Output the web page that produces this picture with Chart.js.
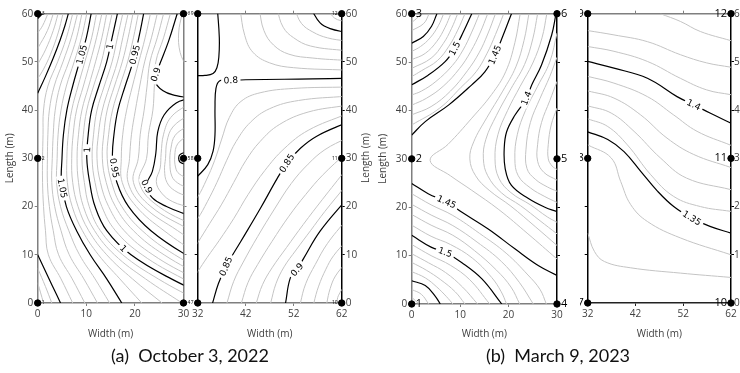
<!DOCTYPE html>
<html>
<head>
<meta charset="utf-8">
<title>Contour maps</title>
<script src="https://cdn.jsdelivr.net/npm/chart.js@4.4.1/dist/chart.umd.min.js"></script>
<style>
  html, body { margin: 0; padding: 0; background: #fff; }
  #wrap { position: relative; width: 740px; height: 373px; overflow: hidden; }
  #wrap canvas { position: absolute; top: 0; }
  .cap { position: absolute; top: 345px; width: 380px; text-align: center; font: 18px Lato, sans-serif; color: #111; white-space: pre; line-height: 20px; }
  .ytitle { position: absolute; width: 80px; height: 14px; line-height: 14px; text-align: center; font: 10px "Open Sans", sans-serif; color: #404040; transform: rotate(-90deg); white-space: nowrap; }
</style>
</head>
<body>
<div id="wrap">
  <canvas id="a1" width="200" height="345" style="left:0px"></canvas>
  <canvas id="a2" width="185" height="345" style="left:190px"></canvas>
  <canvas id="b1" width="195" height="345" style="left:375px"></canvas>
  <canvas id="b2" width="160" height="345" style="left:580px"></canvas>
  <div class="ytitle" style="left:325px;top:151px">Length (m)</div>
  <div class="cap" style="left:0px">(a)  October 3, 2022</div>
  <div class="cap" style="left:368px">(b)  March 9, 2023</div>
</div>
<script>
// ---- ticks ----
const X_TICKS_L = [0, 10, 20, 30];
const X_TICKS_R = [32, 42, 52, 62];
const Y_TICKS = [0, 10, 20, 30, 40, 50, 60];

// ---- sensor positions ----
const SENS_L_X = [0, 0, 0, 30, 30, 30];
const SENS_L_Y = [0, 30, 60, 0, 30, 60];
const SENS_R_X = [32, 32, 32, 62, 62, 62];
const SENS_R_Y = [0, 30, 60, 0, 30, 60];
const IDS_L = ['1', '2', '3', '4', '5', '6'];
const IDS_R = ['7', '8', '9', '10', '11', '12'];

// ---- (a) left panel: near-vertical contours given as X at fixed Y rows ----
const A1_Y_ROWS = [60, 55, 50, 45, 40, 35, 30, 25, 20, 15, 10, 5, 0];
const A1_ROW_LEVELS = [1.09, 1.08, 1.07, 1.06, 1.05, 1.04, 1.03, 1.02, 1.01, 1,
                       0.99, 0.98, 0.97, 0.96, 0.95, 0.94, 0.93, 0.92, 0.91];
const A1_ROW_X = [
  [7.2, 5.9, 4.1, 2.1, 1.2, 1.1, 1.0, 1.0, 1.2, 1.6, 2.2, 4.8, 7.2],
  [8.2, 6.9, 5.2, 3.4, 2.4, 2.1, 2.0, 2.0, 2.4, 3.2, 4.3, 7.1, 9.7],
  [9.1, 8.0, 6.4, 4.6, 3.6, 3.2, 3.0, 2.9, 3.5, 4.8, 6.5, 9.5, 12.3],
  [10.1, 9.0, 7.5, 5.9, 4.8, 4.2, 4.0, 3.9, 4.7, 6.4, 8.6, 11.8, 14.8],
  [11, 10, 8.6, 7.2, 6, 5.3, 5, 4.9, 5.9, 8, 10.8, 14.2, 17.3],
  [12.1, 11.1, 9.7, 8.3, 7.0, 6.3, 6.0, 6.1, 7.1, 9.2, 12.5, 16.9, 21.4],
  [13.2, 12.1, 10.8, 9.4, 8.0, 7.3, 7.0, 7.2, 8.3, 10.5, 14.2, 19.5, 25.6],
  [14.2, 13.2, 11.9, 10.5, 9.1, 8.4, 8.1, 8.4, 9.4, 11.7, 15.8, 22.2, 29.7],
  [15.3, 14.2, 13.1, 11.5, 10.1, 9.4, 9.1, 9.6, 10.6, 12.9, 17.5, 24.8, 33.9],
  [16.4, 15.3, 14.2, 12.6, 11.1, 10.4, 10.1, 10.7, 11.8, 14.2, 19.2, 27.5, 38],
  [17.5, 16.4, 15.3, 13.7, 12.2, 11.5, 11.2, 11.8, 13.2, 16.0, 21.5, 30.0, 40.4],
  [18.6, 17.5, 16.4, 14.8, 13.3, 12.5, 12.2, 12.9, 14.6, 17.8, 23.7, 32.5, 42.8],
  [19.6, 18.6, 17.4, 15.8, 14.3, 13.6, 13.3, 14.1, 16.0, 19.7, 26.0, 35.0, 45.2],
  [20.7, 19.7, 18.5, 16.9, 15.4, 14.6, 14.3, 15.2, 17.3, 21.5, 28.2, 37.5, 47.6],
  [21.8, 20.8, 19.6, 18, 16.5, 15.7, 15.4, 16.3, 18.7, 23.3, 30.5, 40, 50],
  [23.2, 22.1, 20.8, 19.5, 18.3, 17.5, 17.2, 17.4, 20.3, 26.0, 33.4, 43.0, 52.4],
  [24.6, 23.4, 22.0, 21.0, 20.1, 19.3, 18.9, 18.6, 21.8, 28.8, 36.3, 46.0, 54.8],
  [25.9, 24.6, 23.1, 22.5, 21.9, 21.1, 20.7, 19.7, 23.3, 31.5, 39.2, 49.0, 57.2],
  [27.3, 25.9, 24.3, 24.0, 23.7, 22.8, 22.4, 20.9, 24.9, 34.3, 42.1, 52.0, 59.6]
];
// ---- (a) left panel: other contours as point lists ----
const A1_LEVELS = [1.15, 1.14, 1.13, 1.12, 1.11, 1.1, 0.9, 0.9, 0.89, 0.89, 0.88, 0.87, 0.86, 0.85, 1.1, 1.11, 1.12];
const A1_LINES = [
  [[0, 59], [0.6, 59.6], [1, 60]],
  [[2.1, 60], [1, 57.5], [0, 56]],
  [[3.2, 60], [2, 56.5], [0, 52.8]],
  [[4.2, 60], [3.2, 56.5], [1.6, 52.5], [0, 49.5]],
  [[5.2, 60], [4.2, 56], [2.6, 51.5], [1.2, 48.5], [0, 46.5]],
  [[6.3, 60], [5.6, 57.5], [4.6, 54.5], [3.2, 50.8], [1.6, 47], [0, 43.5]],
  [[28.7, 60], [26.9, 54.2], [24.8, 48.7], [24, 46.3], [25.8, 44], [28.5, 43], [31, 42.6]],
  [[31, 42.4], [28.5, 41.5], [26, 39], [24.7, 35.5], [24.3, 31], [23.6, 27.3], [22.3, 24.2], [23.6, 21.8], [26.5, 20], [30, 18.6], [33, 17.6]],
  [[29.7, 60], [29, 56], [29.3, 52], [30.6, 49]],
  [[31, 41.3], [27.4, 38.5], [25.9, 35], [25.4, 31], [25.2, 28], [24.4, 25.2], [25.5, 22.8], [27.8, 21], [31.5, 19.8]],
  [[31, 39], [27.8, 36.5], [26.6, 33.5], [26.3, 30], [26.1, 27.5], [26.6, 25], [28.2, 23.3], [31, 22]],
  [[31, 36.8], [28.3, 34.8], [27.4, 32], [27.2, 29], [27.6, 26.3], [28.8, 24.9], [31, 23.8]],
  [[31, 34.8], [28.8, 33], [28.2, 30.5], [28.4, 28], [29.1, 26.8], [31, 25.8]],
  [[31, 31.5], [29.3, 30.8], [29, 30], [29.3, 29.2], [31, 28.6]],
  [[0, 10], [1.5, 6.8], [3, 3.6], [4.7, 0]],
  [[0, 7.2], [1.6, 3.4], [2.9, 0]],
  [[0, 4.2], [1.2, 0]]
];
const A1_LABELS = [['1.05', 9.1, 51.5], ['1.05', 5.05, 23.8], ['1', 14.9, 53.2], ['1', 10.2, 31.8], ['1', 17.6, 11.3],
                   ['0.95', 20.0, 51.5], ['0.95', 15.75, 28], ['0.9', 24.3, 47.4], ['0.9', 22.4, 24.2]];

// ---- (a) right panel ----
const A2_LEVELS = [0.8, 0.8, 0.79, 0.78, 0.77, 0.76, 0.75, 0.74, 0.81, 0.82, 0.83, 0.84, 0.85, 0.86, 0.87, 0.88, 0.89, 0.9, 0.91, 0.92, 0.93, 0.94];
const A2_LINES = [
  [[36.1, 61], [36.5, 55], [36.4, 51], [36, 48.8], [35.2, 47.6], [33.5, 47.2], [31, 47.2]],
  [[31, 25.3], [32, 26.3], [34.1, 28.7], [35.2, 31.5], [35.6, 35], [35.6, 40.4], [35.8, 44.5], [36.6, 46.1], [38.9, 46.2], [42, 46.3], [50, 46.4], [56, 46.5], [63, 46.6]],
  [[40.8, 61], [41.8, 55.5], [43.5, 52], [47, 49.8], [52, 48.8], [63, 48.3]],
  [[44.8, 61], [45.8, 56.5], [47.8, 53.5], [51, 51.6], [56, 50.8], [63, 50.3]],
  [[48.5, 61], [49.8, 57.2], [52, 55], [55.5, 53.3], [63, 52.3]],
  [[52.2, 61], [53.6, 58], [56, 56.2], [59, 55], [63, 54.3]],
  [[55.6, 61], [57.5, 58.1], [59.6, 56.9], [63, 56.1]],
  [[59.2, 61], [60.5, 59.1], [63, 58.3]],
  [[31, 21], [32, 22], [33.8, 25.5], [35.5, 29.5], [37, 34], [38.6, 38.5], [41, 41.8], [45, 43.6], [52, 44.5], [63, 44.8]],
  [[31, 16.5], [32, 17.5], [34, 21], [36, 25], [38, 29.5], [40, 33.5], [43, 37.5], [47, 40.3], [53, 42], [63, 42.9]],
  [[31, 11], [32, 12.5], [34.5, 16.5], [37, 20.5], [39.5, 25], [42, 29.5], [45, 33.5], [49, 37], [55, 39.6], [63, 41]],
  [[31, 5], [32, 6.5], [34, 9.5], [36.5, 13], [39.5, 17.5], [42.5, 22.5], [46, 27.5], [50, 32], [55, 35.8], [63, 39.2]],
  [[34.8, -1], [35.1, 0], [36.3, 4], [37.9, 7.6], [41, 12.8], [45.1, 19.7], [48.6, 25.9], [50.6, 29], [53.4, 32.1], [56.8, 34.6], [63, 37.4]],
  [[37.8, -1], [38.1, 0], [39.5, 4.5], [41.5, 8.5], [44.5, 13.8], [48, 19.5], [51.5, 24.8], [55, 28.8], [58.5, 31.8], [63, 34.2]],
  [[40.8, -1], [41.1, 0], [42.5, 4.3], [44.5, 8], [47.5, 12.8], [51, 18], [54.5, 22.5], [58, 26.5], [63, 31.2]],
  [[43.9, -1], [44.2, 0], [45.5, 3.8], [47.5, 7.3], [50.5, 11.5], [54, 16.3], [58, 21.5], [63, 27.8]],
  [[46.9, -1], [47.2, 0], [48.3, 4], [50, 7.5], [52.5, 11], [55.5, 15], [58.5, 19], [63, 24.5]],
  [[50.1, -1], [50.3, 0], [51.3, 5.2], [52.7, 6.9], [54.1, 9.3], [57.5, 14.9], [63, 21.5]],
  [[53.3, -1], [53.4, 0], [54.5, 4], [56.5, 8], [59, 12.3], [63, 17.3]],
  [[56.1, -1], [56.2, 0], [57.2, 3.5], [58.7, 7], [60.3, 9.8], [63, 12.9]],
  [[58.8, -1], [58.9, 0], [59.6, 3], [60.7, 5.6], [63, 8.5]],
  [[61, 0], [61.3, 1.5], [63, 4.2]]
];
const A2_LABELS = [['0.8', 38.9, 46.2], ['0.85', 50.6, 29], ['0.85', 37.9, 7.6], ['0.9', 52.7, 6.9]];

// ---- (b) left panel ----
const B1_LEVELS = [1.57, 1.56, 1.55, 1.54, 1.53, 1.52, 1.51, 1.5, 1.49, 1.48, 1.47, 1.46, 1.45,
                   1.44, 1.43, 1.42, 1.41, 1.4, 1.39, 1.38, 1.37, 1.36,
                   1.45, 1.46, 1.47, 1.48, 1.49, 1.5, 1.51, 1.52, 1.53, 1.54, 1.55, 1.56, 1.57];
const B1_LINES = [
  [[2, 60], [1, 59], [0, 58.2]],
  [[3.6, 60], [2.5, 58], [0, 56.5]],
  [[5.2, 60], [4.1, 57.4], [2.4, 55.3], [0, 53.9]],
  [[6.6, 60], [5.5, 57.5], [3.8, 55], [1.8, 53.2], [0, 52.2]],
  [[8.1, 60], [6.9, 57.2], [5.2, 54.3], [2.8, 51.8], [0, 50.5]],
  [[9.5, 60], [8.2, 56.9], [6.5, 53.8], [4, 50.8], [0, 48.7]],
  [[11, 60], [9.5, 56.6], [7.7, 53.3], [5.3, 50.3], [2, 48.2], [0, 47]],
  [[12.4, 60], [10.7, 56.3], [8.9, 52.8], [6.9, 50.1], [3.4, 47.3], [0, 45.3]],
  [[14, 60], [12.4, 56.2], [10.6, 52.5], [8.4, 49.3], [5, 46], [2, 44], [0, 43.2]],
  [[15.7, 60], [14.1, 56], [12.2, 52.2], [9.9, 48.7], [6.5, 45], [3, 42.5], [0, 41.1]],
  [[17.3, 60], [15.7, 55.8], [13.9, 51.9], [11.5, 48.2], [8, 44], [4, 40.8], [0, 39.1]],
  [[19, 60], [17.3, 55.7], [15.5, 51.7], [13.3, 48], [10.2, 44.8], [5.8, 40.5], [0, 37]],
  [[20.6, 60], [18.9, 55.6], [17.2, 51.5], [15.1, 48], [12.4, 45.3], [7.6, 41.1], [2.8, 37.7], [0, 34.9]],
  [[22.4, 60], [21.3, 54], [19.4, 48], [16.5, 43.3], [12.4, 38.4], [7.5, 33], [3.8, 29.7], [8, 26.5], [12.4, 23.5], [18, 19.5], [24, 14.5], [30, 9.3]],
  [[24.2, 60], [23.2, 54.5], [21.5, 49], [18.8, 44], [15.5, 38.5], [12.8, 33.5], [12, 30], [13.2, 26.5], [16, 23.5], [20.5, 20.2], [25.5, 16], [30, 12.1]],
  [[26, 60], [25, 54.8], [23.3, 49.5], [20.5, 44.5], [17.5, 39], [15.3, 34], [14.8, 30], [15.7, 26.5], [18.5, 23], [22.5, 20.3], [26.5, 17.2], [30, 14.5]],
  [[27.9, 60], [26.9, 55], [25, 49.8], [22.4, 45], [19.8, 40], [17.8, 35], [17.2, 30], [18, 26], [20.5, 23], [24.5, 20.5], [28, 18], [30, 16.9]],
  [[29.8, 60], [28.9, 55.6], [26.8, 49.4], [24.8, 45.3], [23.7, 42.5], [21.3, 39], [19.6, 35.6], [19.1, 32.1], [19.3, 28], [20.6, 24.5], [24.1, 21.8], [27.5, 20], [30, 19.1]],
  [[30, 56], [28.5, 50], [26, 45], [23.5, 40], [21.8, 35], [21.3, 30], [22, 26.5], [24.5, 24], [27.5, 22.2], [30, 21]],
  [[30, 51], [28.5, 47], [26.5, 42.5], [24.5, 37.5], [23.6, 32], [23.8, 28], [25.5, 25.8], [28, 24.2], [30, 23.3]],
  [[30, 46], [28.5, 42], [26.8, 37.5], [26, 33], [26, 29.5], [27.3, 27.2], [30, 25.6]],
  [[30, 40.5], [28.8, 37], [28.2, 33], [28.2, 30], [29, 28.5], [30, 27.8]],
  [[0, 24.9], [3.4, 22.8], [7.2, 21.1], [10.3, 19], [15.8, 15.5], [21.3, 11.4], [26.2, 7.9], [30, 5.9]],
  [[0, 22.8], [4, 20.5], [8.5, 18.3], [14, 14.6], [19.5, 10.5], [24, 6], [26.5, 3], [27.8, 0]],
  [[0, 20.6], [4, 18.4], [8.5, 16.2], [13.5, 12.8], [18.5, 8.8], [22.2, 4.5], [25.1, 0]],
  [[0, 18.5], [4, 16.3], [8.5, 14.2], [13, 11], [17.5, 7], [20.5, 3.5], [22.3, 0]],
  [[0, 16.3], [4, 14], [8, 12.3], [12.5, 9.5], [16.5, 5.5], [18.5, 2.5], [19.6, 0]],
  [[0, 14.2], [4.1, 11.7], [6.9, 10.7], [10.3, 8.6], [14.5, 5.2], [18.6, 0]],
  [[0, 12.3], [4, 10], [8, 8], [12, 5], [16.1, 0]],
  [[0, 10.4], [3.5, 8.5], [7, 6.5], [10.5, 3.5], [13.6, 0]],
  [[0, 8.6], [3, 7], [6, 5], [9, 2.5], [11, 0]],
  [[0, 6.7], [2.8, 5.4], [5.2, 3.5], [7.2, 1.5], [8.5, 0]],
  [[0, 4.8], [2.8, 3.8], [4.8, 1.7], [5.9, 0]],
  [[0, 3], [2, 2], [3.5, 0]],
  [[0, 1.4], [1.5, 0]]
];
const B1_LABELS = [['1.5', 8.9, 52.8], ['1.45', 17.2, 51.5], ['1.4', 23.7, 42.5], ['1.45', 7.2, 21.1], ['1.5', 6.9, 10.7]];

// ---- (b) right panel ----
const B2_LEVELS = [1.43, 1.42, 1.41, 1.4, 1.39, 1.38, 1.37, 1.36, 1.35, 1.34, 1.33];
const B2_LINES = [
  [[47.2, 60], [51.4, 58.4], [55.6, 56.3], [62, 54.4]],
  [[32, 56.5], [37.5, 55.6], [44.5, 54.2], [51.4, 51.5], [56.9, 49.8], [62, 48.9]],
  [[32, 53.2], [37.5, 52.2], [44.5, 50.1], [51.4, 46.6], [56.9, 44.2], [62, 43.2]],
  [[32, 50.1], [37.5, 48.7], [44.5, 46.6], [50.7, 42.8], [54.2, 41.1], [57.6, 39.4], [62, 37.3]],
  [[32, 47], [37.5, 45.6], [44.5, 42.8], [50, 39], [54.9, 35.6], [62, 32.7]],
  [[32, 44], [37.5, 42.5], [43.1, 39], [48.6, 34.2], [54.2, 30.8], [62, 28.1]],
  [[32, 40.9], [36.9, 39.4], [41.7, 35.6], [47.2, 30.1], [52.7, 25.9], [62, 23.5]],
  [[32, 38.2], [36.2, 36.6], [40.3, 32.8], [45.2, 26.6], [50, 22.1], [55.6, 20], [62, 19]],
  [[32, 35.5], [36.2, 33.9], [39.6, 31.4], [43.1, 27.3], [46.6, 23.2], [50, 20], [53.8, 17.6], [57.6, 15.9], [62, 14.5]],
  [[32, 32.8], [36.9, 30.1], [38.9, 25.2], [41, 20.4], [44.5, 16.9], [51.4, 13.5], [62, 10]],
  [[32, 14.5], [33.4, 10.7], [35.5, 8.6], [41, 7.3], [51.4, 6.2], [62, 5.3]]
];
const B2_LABELS = [['1.4', 54.2, 41.1], ['1.35', 53.8, 17.6]];

// ---------------------------------------------------------------
const GRAY = '#c4c4c4';
const FRAME = '#7f7f7f';

function contourSets(levels, lines) {
  return lines.map((pts, i) => {
    const lv = levels[i];
    const major = Math.abs(lv * 20 - Math.round(lv * 20)) < 1e-6;
    return {
      level: lv,
      data: pts.map(p => ({ x: p[0], y: p[1] })),
      showLine: true,
      pointRadius: 0,
      borderColor: major ? '#000' : GRAY,
      borderWidth: major ? 1.2 : 1,
      tension: 0.4,
      clip: 0,
      order: major ? 1 : 2
    };
  });
}

function rowLines(rows, xs) {
  return xs.map(row => row.map((x, j) => [x, rows[j]]));
}

function markerSet(xs, ys) {
  return {
    data: xs.map((x, i) => ({ x: x, y: ys[i] })),
    showLine: false,
    pointRadius: 3.2,
    pointBackgroundColor: '#000',
    pointBorderColor: '#000',
    clip: false,
    order: 0
  };
}

const labelPlugin = {
  id: 'clabels',
  afterDatasetsDraw(chart, args, o) {
    const ctx = chart.ctx, sx = chart.scales.x, sy = chart.scales.y;
    ctx.save();
    ctx.font = o.font;
    ctx.textAlign = 'center';
    ctx.textBaseline = 'middle';
    o.items.forEach(([txt, lx, ly]) => {
      const px = sx.getPixelForValue(lx), py = sy.getPixelForValue(ly);
      const lv = parseFloat(txt);
      let best = Infinity, ang = 0;
      chart.data.datasets.forEach(ds => {
        if (ds.level === undefined || Math.abs(ds.level - lv) > 1e-6) return;
        const p = ds.data.map(d => [sx.getPixelForValue(d.x), sy.getPixelForValue(d.y)]);
        for (let i = 0; i < p.length - 1; i++) {
          const dx = p[i + 1][0] - p[i][0], dy = p[i + 1][1] - p[i][1];
          const L = dx * dx + dy * dy || 1;
          let t = ((px - p[i][0]) * dx + (py - p[i][1]) * dy) / L;
          t = Math.max(0, Math.min(1, t));
          const d = Math.hypot(px - (p[i][0] + t * dx), py - (p[i][1] + t * dy));
          if (d < best) { best = d; ang = Math.atan2(dy, dx); }
        }
      });
      if (ang > Math.PI / 2) ang -= Math.PI;
      if (ang <= -Math.PI / 2) ang += Math.PI;
      const w = ctx.measureText(txt).width;
      ctx.save();
      ctx.translate(px, py);
      ctx.rotate(ang);
      ctx.fillStyle = '#fff';
      ctx.fillRect(-w / 2 - 2.5, -4, w + 5, 8);
      ctx.fillStyle = '#000';
      ctx.fillText(txt, 0, 0.5);
      ctx.restore();
    });
    // sensor ids
    const s = o.sensors;
    ctx.font = s.font;
    ctx.fillStyle = '#000';
    ctx.textBaseline = 'middle';
    s.xs.forEach((x, i) => {
      const px = sx.getPixelForValue(x), py = sy.getPixelForValue(s.ys[i]);
      const right = s.side[i] === 'r';
      ctx.textAlign = right ? 'left' : 'right';
      ctx.fillText(s.names[i], px + (right ? 4 : -4), py);
    });
    ctx.restore();
  }
};

function axis(pos, min, max, ticks, size, showLabels, color, title, pad, titlePad) {
  const horiz = pos === 'top' || pos === 'bottom';
  return {
    type: 'linear', position: pos, min: min, max: max,
    afterBuildTicks: s => { s.ticks = ticks.map(v => ({ value: v })); },
    afterFit: s => { if (horiz) s.height = size; else s.width = size; },
    grid: { drawOnChartArea: false, drawTicks: true, tickLength: 3, tickColor: color, tickWidth: 1 },
    border: { display: true, color: color, width: 1.5 },
    ticks: { display: showLabels, autoSkip: false, maxRotation: 0, padding: pad === undefined ? 2 : pad,
             color: '#404040', font: { family: 'Open Sans', size: 10 } },
    title: title ? { display: true, text: title, color: '#404040', font: { family: 'Open Sans', size: 10 },
                     padding: horiz ? { top: 0, bottom: 5 } : { top: titlePad, bottom: 0 } }
                 : { display: false }
  };
}

function panel(id, cfg) {
  new Chart(document.getElementById(id), {
    type: 'scatter',
    data: { datasets: cfg.sets.concat([markerSet(cfg.mx, cfg.my)]) },
    options: {
      responsive: false, animation: false, devicePixelRatio: 1, events: [],
      layout: { padding: 0 },
      elements: { line: { capBezierPoints: false } },
      plugins: {
        legend: { display: false }, tooltip: { enabled: false },
        clabels: { font: '9px "DejaVu Sans"', items: cfg.labels,
                   sensors: { xs: cfg.mx, ys: cfg.my, names: cfg.ids, side: cfg.side, font: cfg.idFont } }
      },
      scales: {
        x: axis('bottom', cfg.xmin, cfg.xmax, cfg.xt, 42 + (cfg.db || 0), true, cfg.cb, 'Width (m)'),
        x2: axis('top', cfg.xmin, cfg.xmax, cfg.xt, 13.7, false, FRAME),
        y: axis('left', 0, 60, Y_TICKS, cfg.wl, cfg.leftLabels, cfg.cl, cfg.leftLabels ? 'Length (m)' : null, 1.5, cfg.tp),
        y2: axis('right', 0, 60, Y_TICKS, cfg.wr, cfg.rightLabels, cfg.cr, null, cfg.padR)
      }
    },
    plugins: [labelPlugin]
  });
}

const A1_SETS = contourSets(A1_ROW_LEVELS, rowLines(A1_Y_ROWS, A1_ROW_X)).concat(contourSets(A1_LEVELS, A1_LINES));

panel('a1', { sets: A1_SETS, labels: A1_LABELS, xmin: 0, xmax: 30, xt: X_TICKS_L,
  wl: 37.7, wr: 16.5, leftLabels: true, rightLabels: false, cl: FRAME, cr: FRAME, cb: FRAME, tp: 4,
  mx: SENS_L_X, my: SENS_L_Y, ids: IDS_L, side: ['r', 'r', 'r', 'r', 'r', 'r'], idFont: '5px "Open Sans"' });

panel('a2', { sets: contourSets(A2_LEVELS, A2_LINES), labels: A2_LABELS, xmin: 32, xmax: 62, xt: X_TICKS_R,
  wl: 6.7, wr: 33.3, leftLabels: false, rightLabels: true, cl: '#000', cr: '#000', cb: FRAME, padR: 1,
  mx: SENS_R_X, my: SENS_R_Y, ids: IDS_R, side: ['l', 'l', 'l', 'l', 'l', 'l'], idFont: '5px "Open Sans"' });

panel('b1', { sets: contourSets(B1_LEVELS, B1_LINES), labels: B1_LABELS, xmin: 0, xmax: 30, xt: X_TICKS_L,
  wl: 36.7, wr: 13, leftLabels: true, rightLabels: false, cl: FRAME, cr: '#000', cb: FRAME, db: -1, tp: 2,
  mx: SENS_L_X, my: SENS_L_Y, ids: IDS_L, side: ['r', 'r', 'r', 'r', 'r', 'r'], idFont: '11px "Open Sans"' });

panel('b2', { sets: contourSets(B2_LEVELS, B2_LINES), labels: B2_LABELS, xmin: 32, xmax: 62, xt: X_TICKS_R,
  wl: 6.7, wr: 9, leftLabels: false, rightLabels: true, cl: '#000', cr: '#000', cb: '#222', padR: 0,
  mx: SENS_R_X, my: SENS_R_Y, ids: IDS_R, side: ['l', 'l', 'l', 'l', 'l', 'l'], idFont: '11px "Open Sans"' });
</script>
</body>
</html>
